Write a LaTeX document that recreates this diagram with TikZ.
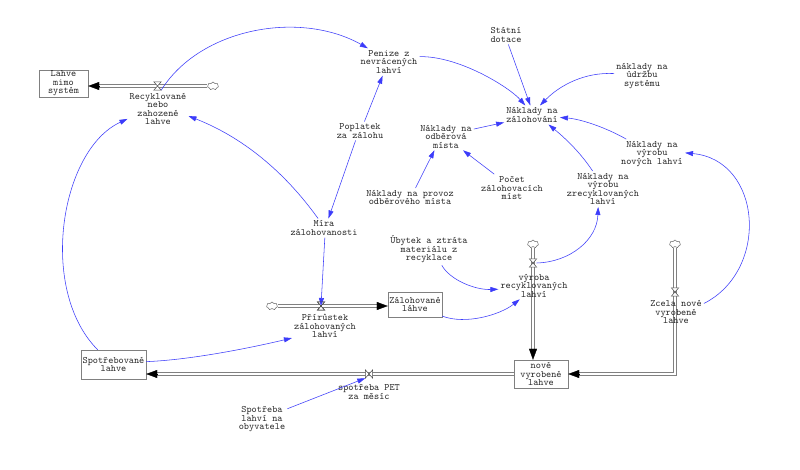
\documentclass[tikz,border=0pt]{standalone}
\usepackage{fontspec}
\usetikzlibrary{arrows.meta,shapes.symbols,calc}
\definecolor{conblue}{RGB}{60,60,250}
\newcommand\vf{\ttfamily\fontsize{9.8}{8.5}\selectfont}
\tikzset{
 txt/.style={font=\vf, align=center, inner sep=2pt, text=black!85},
 stock/.style={draw=black!50, font=\vf, align=center, inner sep=1pt, fill=white, text=black!85},
 pipeout/.style={draw=black!50, line width=4pt},
 pipein/.style={draw=white, line width=2pt},
 ptip/.style={-{Triangle[length=11pt,width=8pt]}, black, line width=0.3pt},
 con/.style={-{Triangle[length=8pt,width=5pt]}, draw=conblue, line width=0.55pt},
 valvebox/.style={minimum width=7pt, minimum height=8pt, inner sep=0pt},
 valveline/.style={draw=black!70, line width=0.5pt},
 cloudspot/.style={rectangle, minimum width=11pt, minimum height=8pt, inner sep=0pt},
 cloudlook/.style={cloud, draw=black!60, cloud puffs=7, minimum width=11pt, minimum height=8pt, inner sep=0pt, aspect=1.4, fill=white, line width=0.5pt},
}
\begin{document}
\begin{tikzpicture}[x=1pt,y=-1pt]
\fill[white] (0,0) rectangle (800,470);
\useasboundingbox (0,0) rectangle (800,470);

% stocks
\node[stock, minimum width=49pt, minimum height=25pt] (lms) at (63.5,83.5) {Lahve\\mimo\\systém};
\node[stock, minimum width=54pt, minimum height=25pt] (zal) at (415,304.5) {Zálohované\\láhve};
\node[stock, minimum width=65pt, minimum height=29pt] (spo) at (113.5,364.5) {Spotřebované\\lahve};
\node[stock, minimum width=54pt, minimum height=28pt] (nov) at (541,374) {nové\\vyrobené\\lahve};

% cloud places
\node[cloudspot] (crec) at (213,86) {};
\node[cloudspot] (cpri) at (272,306) {};
\node[cloudspot] (cvyr) at (533,244) {};
\node[cloudspot] (czce) at (675,244) {};

% pipe ends
\coordinate (pe1) at (crec.west -| lms.east);
\coordinate (ps1) at ($(pe1)+(10,0)$);
\coordinate (pe2) at (cpri.east -| zal.west);
\coordinate (ps2) at ($(pe2)+(-10,0)$);
\coordinate (pe3) at (nov.west -| spo.east);
\coordinate (ps3) at ($(pe3)+(10,0)$);
\coordinate (pe4) at (cvyr.south |- nov.north);
\coordinate (ps4) at ($(pe4)+(0,-10)$);
\coordinate (pc5) at (czce.south |- nov.east);
\coordinate (ps5) at ($(nov.east)+(10,0)$);

% pipes
\foreach \a/\b in {crec.west/ps1, cpri.east/ps2, nov.west/ps3, cvyr.south/ps4}{
  \draw[pipeout] (\a) -- (\b);
}
\draw[pipeout, line join=miter] (czce.south) -- (pc5) -- (ps5);
\foreach \a/\b in {crec.west/ps1, cpri.east/ps2, nov.west/ps3, cvyr.south/ps4}{
  \draw[pipein] (\a) -- (\b);
}
\draw[pipein, line join=miter] (czce.south) -- (pc5) -- (ps5);

\draw[ptip] ($(pe1)+(11,0)$) -- (pe1);
\draw[ptip] ($(pe2)+(-11,0)$) -- (pe2);
\draw[ptip] ($(pe3)+(11,0)$) -- (pe3);
\draw[ptip] ($(pe4)+(0,-11)$) -- (pe4);
\draw[ptip] ($(nov.east)+(11,0)$) -- (nov.east);

% cloud drawings
\foreach \c in {crec,cpri,cvyr,czce}{
  \node[cloudlook] at (\c.center) {};
}

% valves
\node[valvebox] (vrec) at (157.5,86) {};
\node[valvebox] (vpri) at (321,306) {};
\node[valvebox] (vspp) at (369,374) {};
\node[valvebox] (vvyr) at (533,263) {};
\node[valvebox] (vzce) at (675,292) {};
\foreach \v in {vrec,vpri,vvyr,vzce}{
  \draw[valveline, fill=white] (\v.north west) -- (\v.north east) -- (\v.south west) -- (\v.south east) -- cycle;
}
\draw[valveline, fill=white] (vspp.north west) -- (vspp.south west) -- (vspp.north east) -- (vspp.south east) -- cycle;

% labels
\node[txt] (rec) at (158,109) {Recyklované\\nebo\\zahozené\\lahve};
\node[txt] (pen) at (389,62) {Penize z\\nevrácených\\lahví};
\node[txt] (sta) at (506,35) {Státní\\dotace};
\node[txt] (nzal) at (532,115) {Náklady na\\zálohování};
\node[txt] (udr) at (642,76) {náklady na\\údržbu\\systému};
\node[txt] (pop) at (360,131) {Poplatek\\za zálohu};
\node[txt] (odb) at (446,136.5) {Náklady na\\odběrová\\místa};
\node[txt] (poc) at (512,188) {Počet\\zálohovacích\\míst};
\node[txt] (pro) at (410,197.5) {Náklady na provoz\\odběrového místa};
\node[txt] (nzr) at (603,189) {Náklady na\\výrobu\\zrecyklovaných\\lahví};
\node[txt] (nnl) at (652,154) {Náklady na\\výrobu\\nových lahví};
\node[txt] (mir) at (324,228) {Míra\\zálohovanosti};
\node[txt] (uby) at (429,249.5) {Úbytek a ztráta\\materiálu z\\recyklace};
\node[txt] (vyr) at (534,285.5) {výroba\\recyklovaných\\lahví};
\node[txt] (pri) at (325,326) {Přírůstek\\zálohovaných\\lahví};
\node[txt] (spp) at (369,392) {spotřeba PET\\za měsíc};
\node[txt] (obv) at (262,419) {Spotřeba\\lahví na\\obyvatele};
\node[txt] (zce) at (676,312) {Zcela nové\\vyrobené\\lahve};

% connectors
\draw[con] (vrec.south east) .. controls (200,28) and (300,10) .. (pen.147);
\draw[con] (pen.10) .. controls (460,56) and (510,88) .. (nzal.125);
\draw[con] (sta.-76) -- (nzal.100);
\draw[con] (udr.175) .. controls (585,72) and (560,85) .. (nzal.50);
\draw[con] (nnl.150) .. controls (605,127) and (580,119) .. (nzal.-5);
\draw[con] (nzr.120) .. controls (580,152) and (565,138) .. (nzal.-30);
\draw[con] (odb.15) -- (nzal.195);
\draw[con] (poc.142) -- (odb.-39);
\draw[con] (pro.60) -- (odb.-130);
\draw[con] (pop.65) -- (pen.-115);
\draw[con] (pop.-115) -- (mir.65);
\draw[con] (mir.122) .. controls (284,171) and (242,137) .. (rec.-13);
\draw[con] (mir.-85) -- (vpri.center);
\draw[con] (spo.137) .. controls (38,290) and (60,150) .. (rec.198);
\draw[con] (spo.5) .. controls (190,360) and (250,348) .. (pri.200);
\draw[con] (obv.22) -- (vspp.south west);
\draw[con] (zal.-23) .. controls (465,325) and (500,315) .. (vyr.-136);
\draw[con] (uby.-51) .. controls (450,280) and (475,290) .. (vyr.186);
\draw[con] (vvyr.east) .. controls (570,262) and (597,240) .. (nzr.-105);
\draw[con] (zce.17) .. controls (770,270) and (762,160) .. (nnl.2);

\draw[valveline] (vpri.north west) -- (vpri.north east) -- (vpri.south west) -- (vpri.south east) -- cycle;
\end{tikzpicture}
\end{document}
